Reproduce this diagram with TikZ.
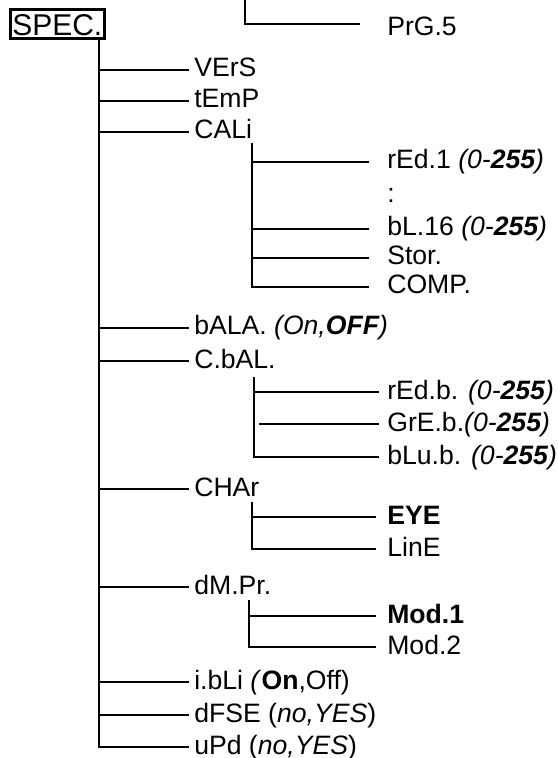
\documentclass[tikz,border=0pt]{standalone}
\usepackage{fontspec}
\setmainfont{Liberation Sans}
\usepackage{tikz}
\usetikzlibrary{calc,positioning}

\begin{document}
\begin{tikzpicture}[x=0.5pt, y=-0.5pt, line width=1.3pt,
	lbl/.style={anchor=west, inner xsep=2pt, inner ysep=0pt, text height=10pt, text depth=3pt, font=\fontsize{13.3}{15}\selectfont},
	topbox/.style={draw, line width=1.3pt, anchor=west, inner xsep=1pt, inner ysep=1.5pt, text height=11.5pt, text depth=0pt, font=\fontsize{15}{17}\selectfont}]
	\useasboundingbox (0,0) rectangle (557,758);
	
	\coordinate (prgtop) at (245,0);
	\coordinate (prgend) at (360,24);
	\node[lbl] (prg) at (382,29) {PrG.5};
	\draw (prgtop) |- (prgend);
	
	\node[topbox] (spec) at (9,24) {SPEC.};
	
	\node[lbl] (vers) at (189,70) {VErS};
	\node[lbl] (temp) at (189,101) {tEmP};
	\node[lbl] (cali) at (189,132) {CALi};
	\node[lbl] (bala) at (189,328) {bALA. \textit{(On,\textbf{OFF})}};
	\node[lbl] (cbal) at (189,361) {C.bAL.};
	\node[lbl] (char) at (189,489) {CHAr};
	\node[lbl] (dmpr) at (189,587) {dM.Pr.};
	\node[lbl] (ibli) at (189,682) {i.bLi \textit{(}\textbf{On},Off)};
	\node[lbl] (dfse) at (189,715) {dFSE (\textit{no,YES})};
	\node[lbl] (upd) at (189,747) {uPd (\textit{no,YES})};
	
	\coordinate (trunk) at (99,39);
	\draw (trunk) |- (upd.west);
	\foreach \n in {vers,temp,cali,bala,cbal,char,dmpr,ibli,dfse}
		\draw (\n.west -| trunk) -- (\n.west);
	
	\node[lbl] (red1) at (382,162) {rEd.1 \textit{(0-\textbf{255})}};
	\node[lbl] (dots) at (382,196) {:};
	\node[lbl] (bl16) at (382,229) {bL.16 \textit{(0-\textbf{255})}};
	\node[lbl] (stor) at (382,258) {Stor.};
	\node[lbl] (comp) at (382,287) {COMP.};
	
	\coordinate (calitop) at (252,143);
	\draw[shorten >=6.5pt] (calitop) |- (comp.west);
	\foreach \n in {red1,bl16,stor}
		\draw[shorten >=6.5pt] (\n.west -| calitop) -- (\n.west);
	
	\node[lbl] (redb) at (382,392) {rEd.b. \textit{(0-\textbf{255})}};
	\node[lbl] (greb) at (382,424) {GrE.b.\textit{(0-\textbf{255})}};
	\node[lbl] (blub) at (382,457) {bLu.b. \textit{(0-\textbf{255})}};
	
	\coordinate (cbaltop) at (254,377);
	\draw[shorten >=1.5pt] (cbaltop) |- (blub.west);
	\draw[shorten >=1.5pt] (redb.west -| cbaltop) -- (redb.west);
	\draw[shorten <=2.5pt, shorten >=1.5pt] (greb.west -| cbaltop) -- (greb.west);
	
	\node[lbl] (eye) at (382,517) {\textbf{EYE}};
	\node[lbl] (line) at (382,549) {LinE};
	
	\coordinate (chartop) at (252,502);
	\draw[shorten >=3pt] (chartop) |- (line.west);
	\draw[shorten >=3pt] (eye.west -| chartop) -- (eye.west);
	
	\node[lbl] (mod1) at (382,616) {\textbf{Mod.1}};
	\node[lbl] (mod2) at (382,647) {Mod.2};
	
	\coordinate (dmprtop) at (249,600);
	\draw[shorten >=3pt] (dmprtop) |- (mod2.west);
	\draw[shorten >=3pt] (mod1.west -| dmprtop) -- (mod1.west);
\end{tikzpicture}
\end{document}
